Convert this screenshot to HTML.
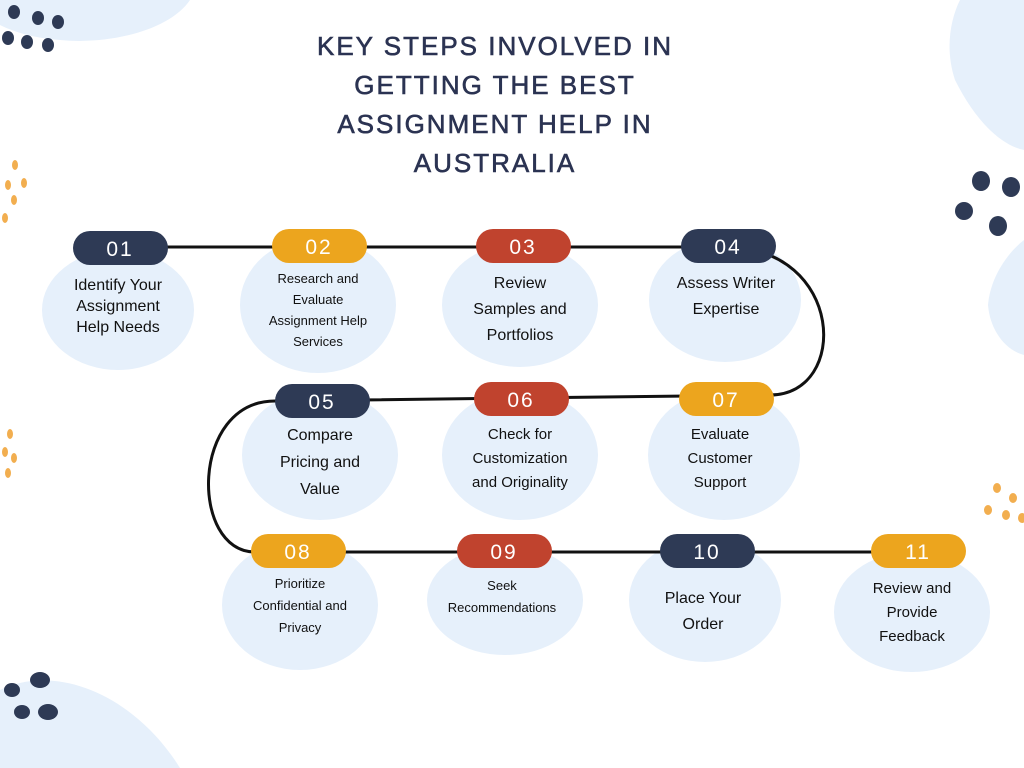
<!DOCTYPE html>
<html><head><meta charset="utf-8"><style>
body{margin:0;width:1024px;height:768px;background:#fff;overflow:hidden;position:relative;font-family:"Liberation Sans",sans-serif}
svg{position:absolute;left:0;top:0}
.t{position:absolute;left:240px;width:510px;text-align:center;color:#2b3352;font-size:26px;letter-spacing:2px;line-height:39px;top:27px;font-weight:normal;-webkit-text-stroke:0.6px #2b3352}
.lb{position:absolute;text-align:center;color:#111;font-size:15px;line-height:25px;transform:translateX(-50%)}
.s{font-size:13px;line-height:21px}
</style></head><body>
<svg width="1024" height="768">
<g fill="#e6f0fb">
<path d="M0 0 H190 C170 30 110 45 60 40 C30 38 10 30 0 25Z"/>
<path d="M960 0 H1024 V150 C1000 145 975 120 955 80 C945 50 950 20 960 0Z"/>
<path d="M1024 240 V355 C1005 350 990 330 988 305 C990 280 1005 255 1024 240Z"/>
<path d="M0 690 C40 670 100 680 150 730 C165 745 175 760 180 768 H0Z"/>
<ellipse cx="118" cy="310" rx="76" ry="60"/>
<ellipse cx="318" cy="305" rx="78" ry="68"/>
<ellipse cx="520" cy="305" rx="78" ry="62"/>
<ellipse cx="725" cy="300" rx="76" ry="62"/>
<ellipse cx="320" cy="455" rx="78" ry="65"/>
<ellipse cx="520" cy="455" rx="78" ry="65"/>
<ellipse cx="724" cy="455" rx="76" ry="65"/>
<ellipse cx="300" cy="605" rx="78" ry="65"/>
<ellipse cx="505" cy="600" rx="78" ry="55"/>
<ellipse cx="705" cy="600" rx="76" ry="62"/>
<ellipse cx="912" cy="612" rx="78" ry="60"/>
</g>
<g fill="#2e3a55">
<ellipse cx="14" cy="12" rx="6" ry="7"/><ellipse cx="38" cy="18" rx="6" ry="7"/><ellipse cx="58" cy="22" rx="6" ry="7"/>
<ellipse cx="8" cy="38" rx="6" ry="7"/><ellipse cx="27" cy="42" rx="6" ry="7"/><ellipse cx="48" cy="45" rx="6" ry="7"/>
<ellipse cx="981" cy="181" rx="9" ry="10"/><ellipse cx="1011" cy="187" rx="9" ry="10"/><ellipse cx="964" cy="211" rx="9" ry="9"/><ellipse cx="998" cy="226" rx="9" ry="10"/>
<ellipse cx="12" cy="690" rx="8" ry="7"/><ellipse cx="40" cy="680" rx="10" ry="8"/><ellipse cx="22" cy="712" rx="8" ry="7"/><ellipse cx="48" cy="712" rx="10" ry="8"/>
</g>
<g fill="#f2ae4f">
<ellipse cx="15" cy="165" rx="3" ry="5"/><ellipse cx="8" cy="185" rx="3" ry="5"/><ellipse cx="24" cy="183" rx="3" ry="5"/><ellipse cx="14" cy="200" rx="3" ry="5"/><ellipse cx="5" cy="218" rx="3" ry="5"/>
<ellipse cx="10" cy="434" rx="3" ry="5"/><ellipse cx="5" cy="452" rx="3" ry="5"/><ellipse cx="14" cy="458" rx="3" ry="5"/><ellipse cx="8" cy="473" rx="3" ry="5"/>
<ellipse cx="997" cy="488" rx="4" ry="5"/><ellipse cx="1013" cy="498" rx="4" ry="5"/><ellipse cx="988" cy="510" rx="4" ry="5"/><ellipse cx="1006" cy="515" rx="4" ry="5"/><ellipse cx="1022" cy="518" rx="4" ry="5"/>
</g>
<g fill="none" stroke="#111" stroke-width="3">
<path d="M120 247 H725 C845 247 850 395 770 395 L275 401 C190 401 190 552 255 552 H918"/>
</g>
<g>
<rect x="73" y="231" width="95" height="34" rx="17" fill="#2e3a55"/>
<rect x="272" y="229" width="95" height="34" rx="17" fill="#eca51e"/>
<rect x="476" y="229" width="95" height="34" rx="17" fill="#c0432e"/>
<rect x="681" y="229" width="95" height="34" rx="17" fill="#2e3a55"/>
<rect x="275" y="384" width="95" height="34" rx="17" fill="#2e3a55"/>
<rect x="474" y="382" width="95" height="34" rx="17" fill="#c0432e"/>
<rect x="679" y="382" width="95" height="34" rx="17" fill="#eca51e"/>
<rect x="251" y="534" width="95" height="34" rx="17" fill="#eca51e"/>
<rect x="457" y="534" width="95" height="34" rx="17" fill="#c0432e"/>
<rect x="660" y="534" width="95" height="34" rx="17" fill="#2e3a55"/>
<rect x="871" y="534" width="95" height="34" rx="17" fill="#eca51e"/>
</g>
<g fill="#fff" font-family="Liberation Sans" font-size="21" text-anchor="middle" letter-spacing="2">
<text x="120" y="256">01</text><text x="319" y="254">02</text><text x="523" y="254">03</text><text x="728" y="254">04</text>
<text x="322" y="409">05</text><text x="521" y="407">06</text><text x="726" y="407">07</text>
<text x="298" y="559">08</text><text x="504" y="559">09</text><text x="707" y="559">10</text><text x="918" y="559">11</text>
</g>
</svg>
<div class="t">KEY STEPS INVOLVED IN<br>GETTING THE BEST<br>ASSIGNMENT HELP IN<br>AUSTRALIA</div>
<div class="lb" style="left:118px;top:275px;width:140px;font-size:16px;line-height:21px">Identify Your<br>Assignment<br>Help Needs</div>
<div class="lb s" style="left:318px;top:268px;width:150px">Research and<br>Evaluate<br>Assignment Help<br>Services</div>
<div class="lb" style="left:520px;top:271px;width:150px;font-size:16px;line-height:26px">Review<br>Samples and<br>Portfolios</div>
<div class="lb" style="left:726px;top:271px;width:150px;font-size:16px;line-height:26px">Assess Writer<br>Expertise</div>
<div class="lb" style="left:320px;top:422px;width:150px;font-size:16px;line-height:27px">Compare<br>Pricing and<br>Value</div>
<div class="lb" style="left:520px;top:423px;width:150px;line-height:24px">Check for<br>Customization<br>and Originality</div>
<div class="lb" style="left:720px;top:423px;width:150px;line-height:24px">Evaluate<br>Customer<br>Support</div>
<div class="lb s" style="left:300px;top:573px;width:150px;line-height:22px">Prioritize<br>Confidential and<br>Privacy</div>
<div class="lb s" style="left:502px;top:575px;width:150px;line-height:22px">Seek<br>Recommendations</div>
<div class="lb" style="left:703px;top:586px;width:150px;font-size:16px;line-height:26px">Place Your<br>Order</div>
<div class="lb" style="left:912px;top:577px;width:150px;line-height:24px">Review and<br>Provide<br>Feedback</div>
</body></html>
